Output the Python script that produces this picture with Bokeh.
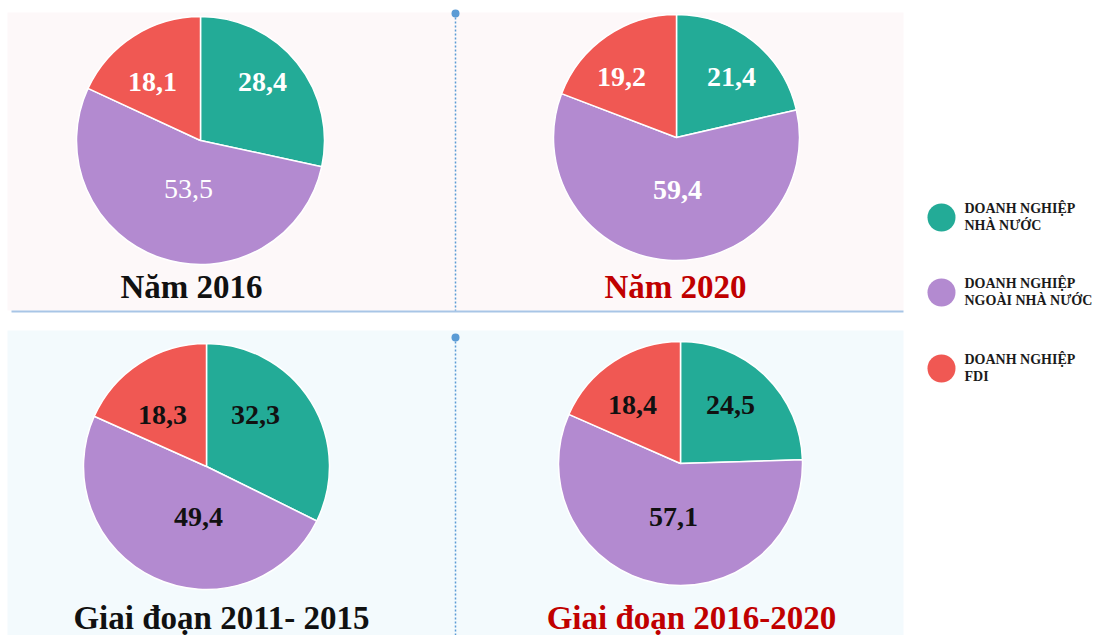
import math
from bokeh.plotting import figure
from bokeh.models import Range1d, ColumnDataSource
from bokeh.core.properties import value
from bokeh.embed import file_html
from bokeh.resources import INLINE

# ---------------- data ----------------
categories = ["DOANH NGHIỆP NHÀ NƯỚC", "DOANH NGHIỆP NGOÀI NHÀ NƯỚC", "DOANH NGHIỆP FDI"]
legend_line1 = ["DOANH NGHIỆP", "DOANH NGHIỆP", "DOANH NGHIỆP"]
legend_line2 = ["NHÀ NƯỚC", "NGOÀI NHÀ NƯỚC", "FDI"]
periods = ["Năm 2016", "Năm 2020", "Giai đoạn 2011- 2015", "Giai đoạn 2016-2020"]
values_2016 = [28.4, 53.5, 18.1]
values_2020 = [21.4, 59.4, 19.2]
values_2011_2015 = [32.3, 49.4, 18.3]
values_2016_2020 = [24.5, 57.1, 18.4]
all_values = [values_2016, values_2020, values_2011_2015, values_2016_2020]

# ---------------- style / layout ----------------
colors = ["#23ab97", "#b38ad0", "#f05853"]
FONT = "Liberation Serif"
W, H = 1095, 635
def Y(sy):  # screen y -> data y
    return H - sy

pie_centers = [(200, 140), (676, 137), (206, 466), (680, 463)]
pie_radius = [124, 123, 123, 122]
label_offsets = [
    [(62, -59), (-12, 48), (-48, -59)],
    [(55, -61), (1, 52), (-55, -61)],
    [(49, -52), (-8, 50), (-44, -52)],
    [(50, -59), (-7, 53), (-48, -59)],
]
label_colors = ["white", "white", "#111111", "#111111"]
label_weights = [["bold", "normal", "bold"], ["bold"] * 3, ["bold"] * 3, ["bold"] * 3]
title_pos = [(191, 286), (675, 286), (221, 617), (691, 617)]
title_colors = ["#111111", "#c00000", "#111111", "#c00000"]

p = figure(width=W, height=H, output_backend="svg", toolbar_location=None,
           x_range=Range1d(0, W), y_range=Range1d(0, H),
           min_border=0, background_fill_color="white", border_fill_color="white")
p.xaxis.visible = False
p.yaxis.visible = False
p.xgrid.visible = False
p.ygrid.visible = False
p.outline_line_color = None

# panel backgrounds
p.quad(left=[7], right=[903], top=[Y(12)], bottom=[Y(310)], fill_color="#fdf8f9", line_color=None)
p.quad(left=[7], right=[903], top=[Y(330)], bottom=[Y(640)], fill_color="#f3fafd", line_color=None)
# horizontal separator
p.segment(x0=[11], y0=[Y(311)], x1=[903], y1=[Y(311)], line_color="#a8c5e6", line_width=2)
# dotted vertical separators with dot at the top
p.segment(x0=[455, 455], y0=[Y(13), Y(337)], x1=[455, 455], y1=[Y(310), Y(640)],
          line_color="#5b9bd5", line_width=1.5, line_dash="2 2")
p.scatter(x=[455, 455], y=[Y(13), Y(337)], size=8, fill_color="#5b9bd5", line_color=None)

for i, vals in enumerate(all_values):
    cx, cy = pie_centers[i]
    r = pie_radius[i]
    total = sum(vals)
    starts, ends = [], []
    cum = 0.0
    for v in vals:
        starts.append(math.pi / 2 - 2 * math.pi * cum / total)
        cum += v
        ends.append(math.pi / 2 - 2 * math.pi * cum / total)
    src = ColumnDataSource(dict(x=[cx] * 3, y=[Y(cy)] * 3, s=starts, e=ends, c=colors))
    p.wedge(x="x", y="y", radius=r, start_angle="s", end_angle="e", direction="clock",
            fill_color="c", line_color="white", line_width=1.5, source=src)
    for j, v in enumerate(vals):
        dx, dy = label_offsets[i][j]
        p.text(x=[cx + dx], y=[Y(cy + dy)], text=[f"{v:.1f}".replace(".", ",")],
               text_font=value(FONT), text_font_size="28px", text_font_style=label_weights[i][j],
               text_color=label_colors[i], text_align="center", text_baseline="middle")
    tx, ty = title_pos[i]
    p.text(x=[tx], y=[Y(ty)], text=[periods[i]], text_font=value(FONT), text_font_size="33px",
           text_font_style="bold", text_color=title_colors[i], text_align="center",
           text_baseline="middle")

# legend
legend_y = [217, 292, 368]
p.scatter(x=[941] * 3, y=[Y(v) for v in legend_y], size=28, fill_color=colors, line_color=None)
p.text(x=[964] * 3, y=[Y(v - 9) for v in legend_y], text=legend_line1, text_font=value(FONT),
       text_font_size="14px", text_font_style="bold", text_color="#1a1a1a",
       text_align="left", text_baseline="middle")
p.text(x=[964] * 3, y=[Y(v + 8) for v in legend_y], text=legend_line2, text_font=value(FONT),
       text_font_size="14px", text_font_style="bold", text_color="#1a1a1a",
       text_align="left", text_baseline="middle")

open("out.html", "w").write(file_html(p, INLINE))
